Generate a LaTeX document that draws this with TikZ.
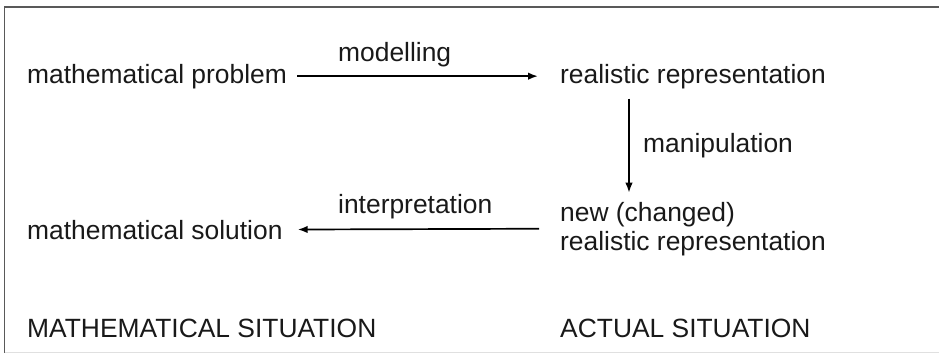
\documentclass[tikz,border=0pt]{standalone}
\usepackage{fontspec}
\setmainfont{Liberation Sans}
\usetikzlibrary{arrows.meta}
\begin{document}
\begin{tikzpicture}[x=1pt,y=-1pt,
  txt/.style={inner sep=0pt, anchor=base west, text=black!90, font=\fontsize{26.4}{29}\selectfont},
  arr/.style={line width=1.7pt, -{Latex[length=10pt,width=7.5pt]}},
  frame/.style={line width=1.8pt, draw=black!65}]
\useasboundingbox (0,0) rectangle (939,353);
% frame
\draw[frame] (4.5,353) -- (4.5,7) -- (939,7);
\draw[line width=1pt, draw=black!12] (4.5,352.5) -- (939,352.5);
% nodes
\node[txt] (mp) at (27,83) {mathematical problem};
\node[txt] (rr) at (560,83) {realistic representation};
\node[txt, align=left] (nr) at (560,250) {new (changed)\\realistic representation};
\node[txt] (ms) at (27,239) {mathematical solution};
\node[txt] (msit) at (27,337) {MATHEMATICAL SITUATION};
\node[txt] (asit) at (560,337) {ACTUAL SITUATION};
% labels
\node[txt] (lmod) at (338,62) {modelling};
\node[txt] (lman) at (643,152) {manipulation};
\node[txt] (lint) at (338,213) {interpretation};
% connectors
\draw[arr, shorten <=10pt, shorten >=22pt] (mp.east) -- (rr.west);
\draw[arr] ([xshift=69pt,yshift=-10pt]rr.south west) -- ([xshift=69pt,yshift=9pt]nr.north west);
\draw[arr, shorten <=21pt, shorten >=15pt] (nr.west) -- (ms.east);
\end{tikzpicture}
\end{document}
